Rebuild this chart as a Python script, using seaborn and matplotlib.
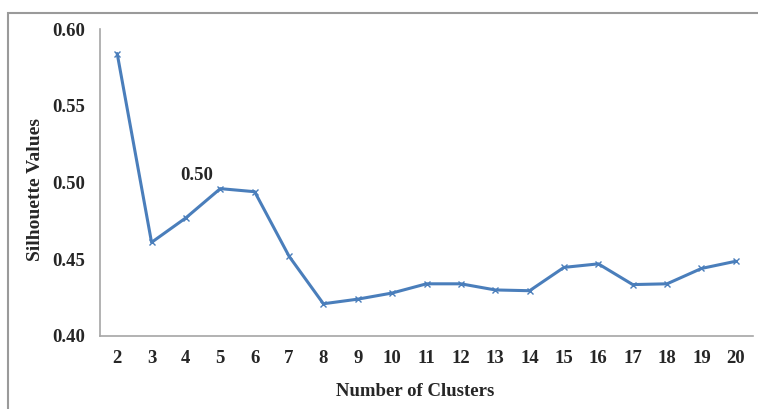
import numpy as np
import pandas as pd
import seaborn as sns
import matplotlib.pyplot as plt
from matplotlib.ticker import FixedLocator

# data
clusters = [2, 3, 4, 5, 6, 7, 8, 9, 10, 11, 12, 13, 14, 15, 16, 17, 18, 19, 20]
silhouette = [0.584, 0.461, 0.477, 0.496, 0.494, 0.452, 0.421, 0.424, 0.428, 0.434,
              0.434, 0.430, 0.4295, 0.4447, 0.447, 0.4335, 0.434, 0.444, 0.4487]
y_ticks = [0.40, 0.45, 0.50, 0.55, 0.60]
note_text = "0.50"

df = pd.DataFrame({"clusters": clusters, "silhouette": silhouette})

sns.set_style("white")
plt.rcParams['font.family'] = ['Liberation Serif', 'DejaVu Serif']

fig = plt.figure(figsize=(7.58, 4.09), dpi=100)
ax = fig.add_axes([100 / 758, 1 - 336 / 409, 653 / 758, 307 / 409])

sns.lineplot(data=df, x="clusters", y="silhouette", ax=ax, color="#4a7ebb",
             linewidth=2.2, marker="x", markersize=4, markeredgewidth=1.0,
             markeredgecolor="#4a7ebb")

ax.set_xlim(1.5, 20.5)
ax.set_ylim(0.40, 0.60)
ax.set_xticks(clusters)
ax.set_xticklabels([str(c) for c in clusters], fontsize=13.5, fontweight="bold")
ax.xaxis.set_minor_locator(FixedLocator(np.arange(1.5, 21, 1)))
ax.tick_params(axis="x", which="major", length=0, pad=10)
ax.tick_params(axis="x", which="minor", length=4, color="#a6a6a6", width=1, direction="out")
ax.set_yticks(y_ticks)
ax.set_yticklabels([f"{v:.2f}" for v in y_ticks], fontsize=13.5, fontweight="bold")
ax.tick_params(axis="y", length=4, color="#a6a6a6", width=1, direction="out", pad=7)

for s in ["top", "right"]:
    ax.spines[s].set_visible(False)
for s in ["left", "bottom"]:
    ax.spines[s].set_color("#a6a6a6")
    ax.spines[s].set_linewidth(1.2)

ax.set_xlabel("Number of Clusters", fontsize=13.5, fontweight="bold")
ax.set_ylabel("Silhouette Values", fontsize=14, fontweight="bold")
ax.xaxis.set_label_coords(0.482, -0.182)
ax.yaxis.set_label_coords(-0.0995, 0.4756)
ax.xaxis.label.set_va("center")
ax.yaxis.label.set_va("center")

ax.text(4.3, 0.5045, note_text, fontsize=13.5, fontweight="bold", ha="center", va="center")

# outer frame around the chart
frame = plt.Rectangle((8 / 758, -0.1), 1.2, 1 - 13 / 409 + 0.1, transform=fig.transFigure,
                      fill=False, edgecolor="#9a9a9a", linewidth=1.5, clip_on=False)
fig.patches.append(frame)

fig.savefig("out.png", dpi=100)
